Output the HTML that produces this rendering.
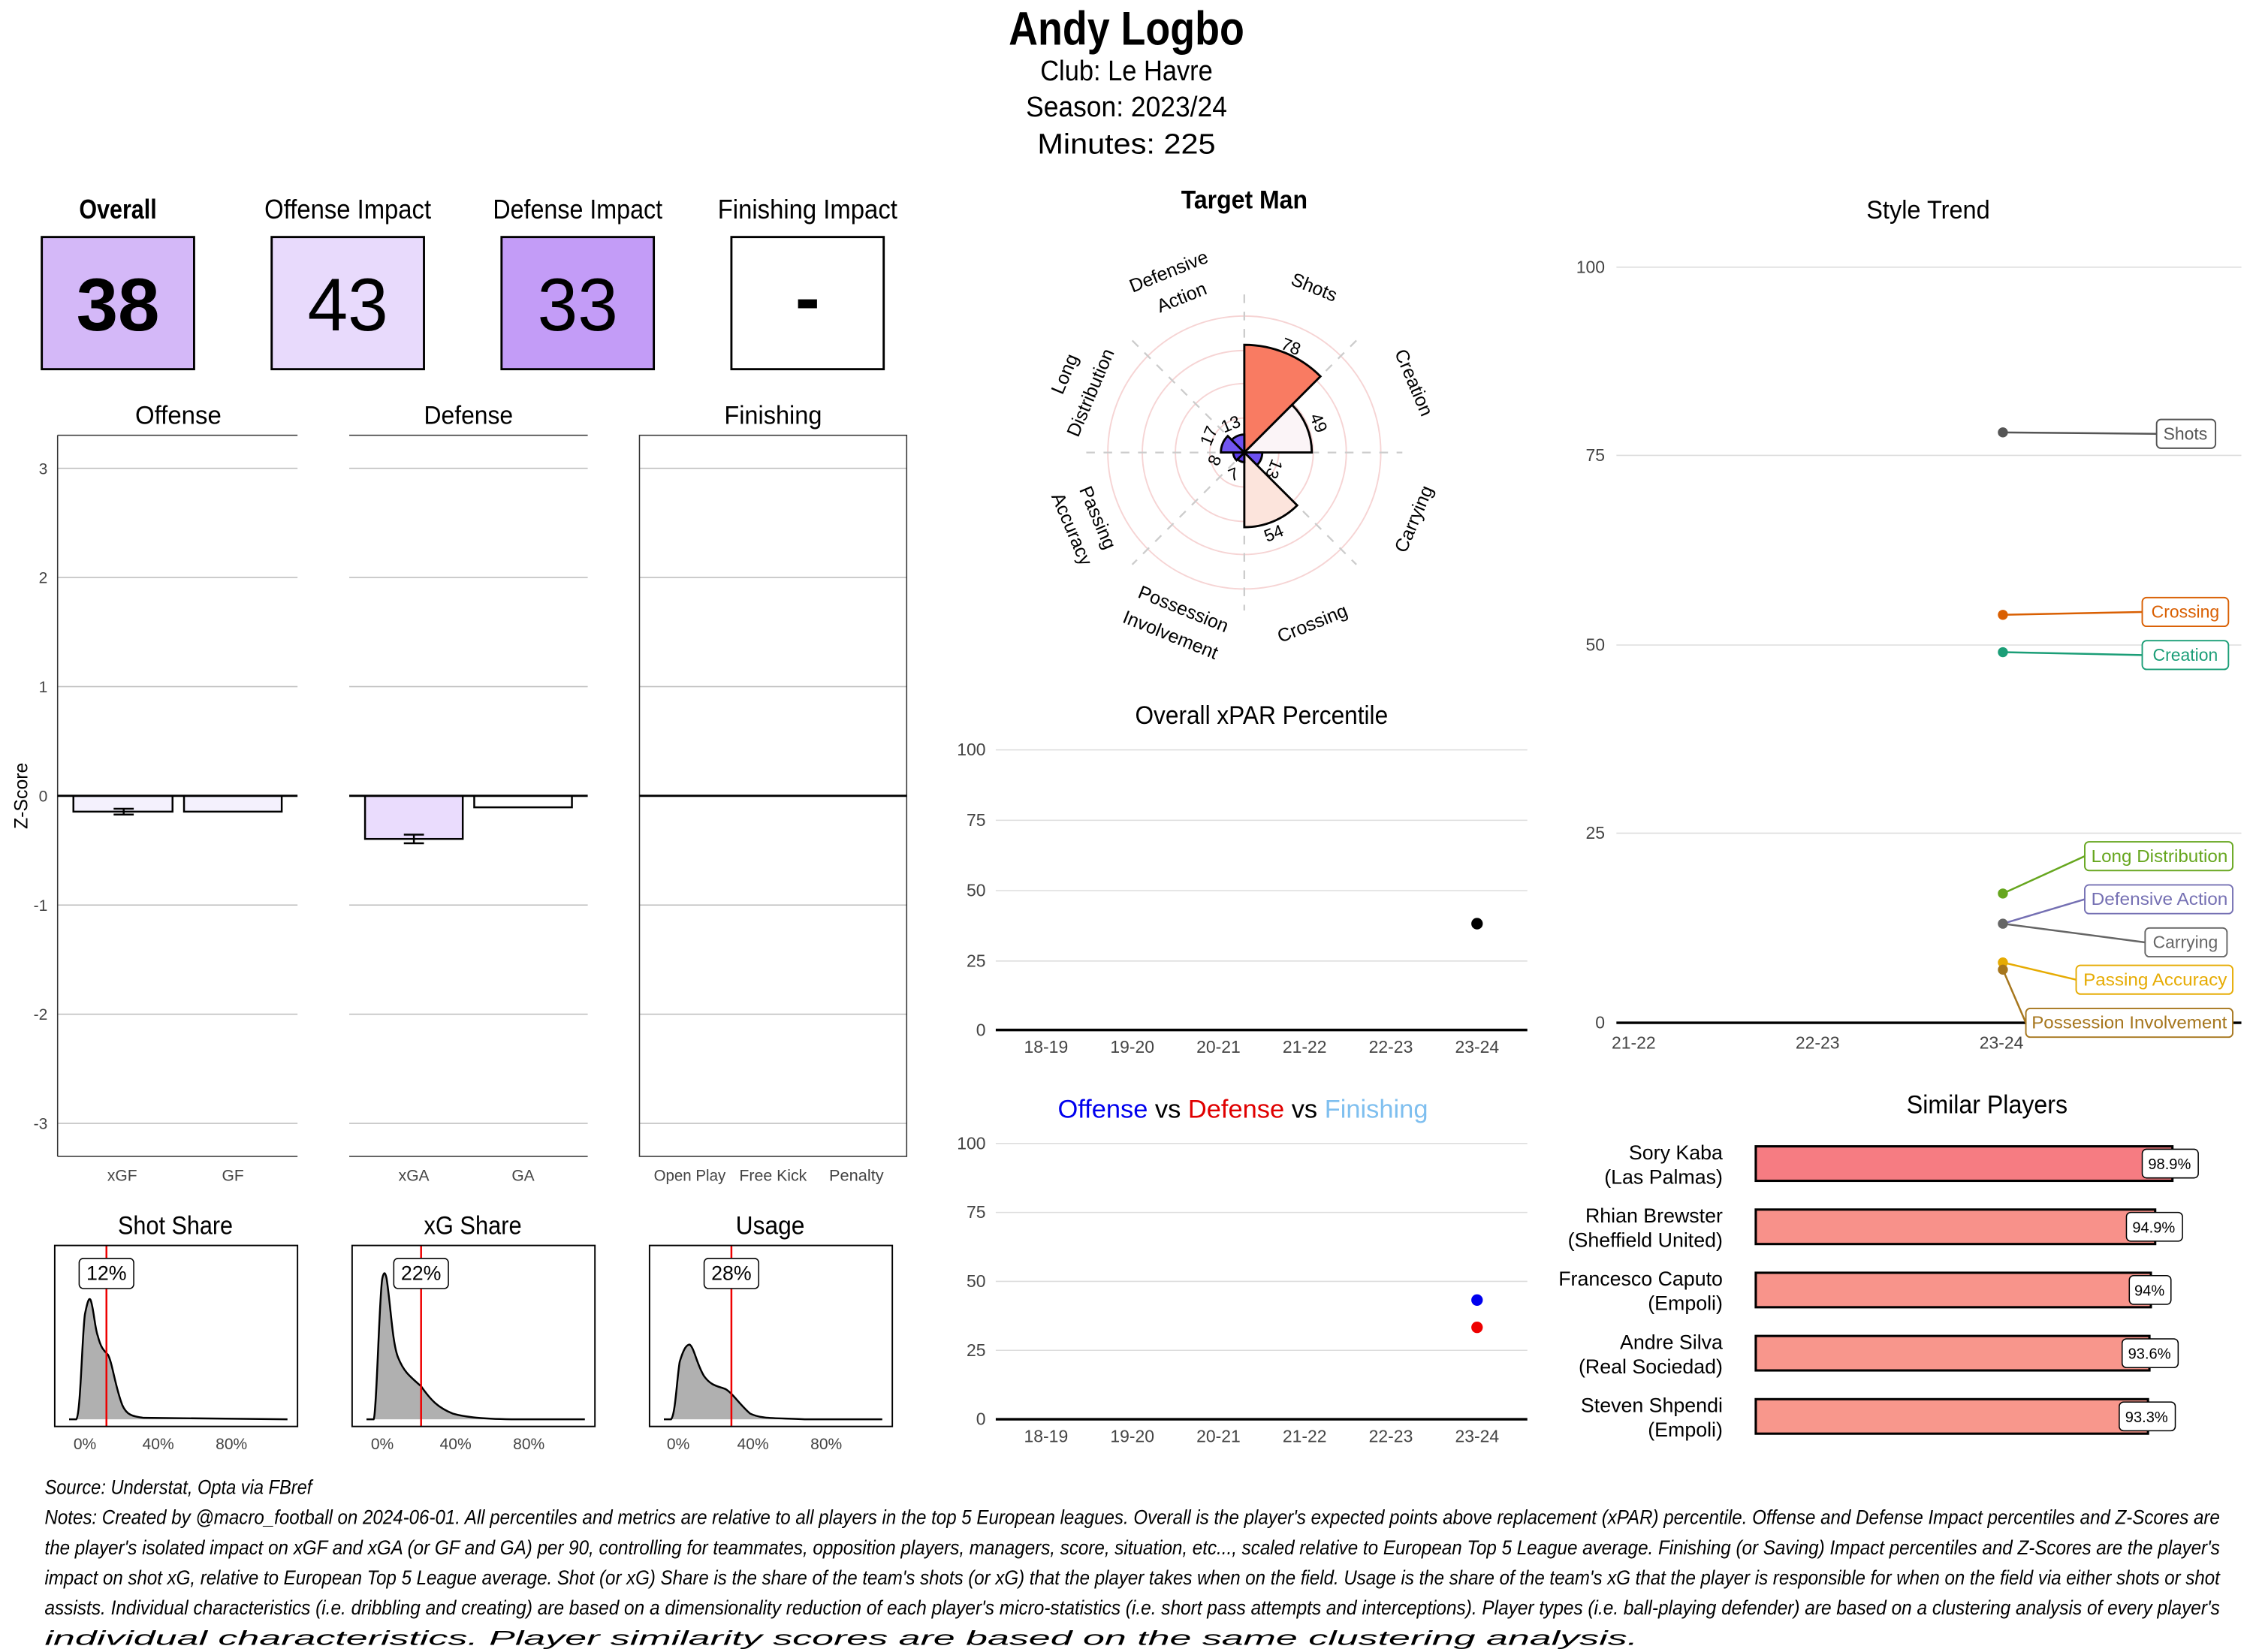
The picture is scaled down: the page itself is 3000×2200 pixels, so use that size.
<!DOCTYPE html>
<html><head><meta charset="utf-8"><style>html,body{margin:0;padding:0;background:#fff}svg{display:block}</style></head>
<body>
<svg xmlns="http://www.w3.org/2000/svg" width="3000" height="2200" viewBox="0 0 1568 1150" font-family="Liberation Sans, sans-serif">
<rect width="1568" height="1150" fill="#fff"/>
<!-- Title -->
<text x="784" y="31" text-anchor="middle" font-size="33" font-weight="bold" textLength="164" lengthAdjust="spacingAndGlyphs">Andy Logbo</text>
<g font-size="20" text-anchor="middle">
<text x="784" y="56" textLength="120" lengthAdjust="spacingAndGlyphs">Club:  Le Havre</text>
<text x="784" y="81" textLength="140" lengthAdjust="spacingAndGlyphs">Season:  2023/24</text>
<text x="784" y="107" textLength="124" lengthAdjust="spacingAndGlyphs">Minutes:  225</text>
</g>
<!-- Impact boxes -->
<g font-size="19" text-anchor="middle">
<text x="82" y="152" font-weight="bold" textLength="54" lengthAdjust="spacingAndGlyphs">Overall</text>
<text x="242" y="152" textLength="116" lengthAdjust="spacingAndGlyphs">Offense Impact</text>
<text x="402" y="152" textLength="118" lengthAdjust="spacingAndGlyphs">Defense Impact</text>
<text x="562" y="152" textLength="125" lengthAdjust="spacingAndGlyphs">Finishing Impact</text>
</g>
<rect x="29" y="165" width="106" height="92" fill="#d4b8f8" stroke="#000" stroke-width="1.5"/>
<rect x="189" y="165" width="106" height="92" fill="#e8dafc" stroke="#000" stroke-width="1.5"/>
<rect x="349" y="165" width="106" height="92" fill="#c39cf7" stroke="#000" stroke-width="1.5"/>
<rect x="509" y="165" width="106" height="92" fill="#fff" stroke="#000" stroke-width="1.5"/>
<g font-size="52" text-anchor="middle">
<text x="82" y="230" font-weight="bold" textLength="58" lengthAdjust="spacingAndGlyphs">38</text>
<text x="242" y="230" textLength="56" lengthAdjust="spacingAndGlyphs">43</text>
<text x="402" y="230" textLength="56" lengthAdjust="spacingAndGlyphs">33</text>
<text x="562" y="225" font-weight="bold">-</text>
</g>
<!-- Z-score panels -->
<g font-size="18" text-anchor="middle">
<text x="124" y="295" textLength="60" lengthAdjust="spacingAndGlyphs">Offense</text>
<text x="326" y="295" textLength="62" lengthAdjust="spacingAndGlyphs">Defense</text>
<text x="538" y="295" textLength="68" lengthAdjust="spacingAndGlyphs">Finishing</text>
</g>
<g stroke="#bbb" stroke-width="0.8">
<line x1="40" x2="207" y1="326" y2="326"/><line x1="40" x2="207" y1="402" y2="402"/><line x1="40" x2="207" y1="478" y2="478"/><line x1="40" x2="207" y1="630" y2="630"/><line x1="40" x2="207" y1="706" y2="706"/><line x1="40" x2="207" y1="782" y2="782"/>
<line x1="243" x2="409" y1="326" y2="326"/><line x1="243" x2="409" y1="402" y2="402"/><line x1="243" x2="409" y1="478" y2="478"/><line x1="243" x2="409" y1="630" y2="630"/><line x1="243" x2="409" y1="706" y2="706"/><line x1="243" x2="409" y1="782" y2="782"/>
<line x1="445" x2="631" y1="326" y2="326"/><line x1="445" x2="631" y1="402" y2="402"/><line x1="445" x2="631" y1="478" y2="478"/><line x1="445" x2="631" y1="630" y2="630"/><line x1="445" x2="631" y1="706" y2="706"/><line x1="445" x2="631" y1="782" y2="782"/>
</g>
<g stroke="#333" stroke-width="0.8" fill="none">
<line x1="40" x2="207" y1="303" y2="303"/><line x1="40" x2="40" y1="303" y2="805"/><line x1="40" x2="207" y1="805" y2="805"/>
<line x1="243" x2="409" y1="303" y2="303"/><line x1="243" x2="409" y1="805" y2="805"/>
<rect x="445" y="303" width="186" height="502"/>
</g>
<g font-size="11" fill="#444" text-anchor="end">
<text x="33" y="330">3</text><text x="33" y="406">2</text><text x="33" y="482">1</text><text x="33" y="558">0</text><text x="33" y="634">-1</text><text x="33" y="710">-2</text><text x="33" y="786">-3</text>
</g>
<text transform="translate(19,554) rotate(-90)" font-size="13" text-anchor="middle">Z-Score</text>
<rect x="51" y="554" width="69" height="11" fill="#f4f1fd" stroke="#000" stroke-width="1.3"/>
<rect x="128" y="554" width="68" height="11" fill="#f4f1fd" stroke="#000" stroke-width="1.3"/>
<rect x="254" y="554" width="68" height="30" fill="#eadcfd" stroke="#000" stroke-width="1.3"/>
<rect x="330" y="554" width="68" height="8" fill="#fff" stroke="#000" stroke-width="1.3"/>
<g stroke="#000" stroke-width="1.3">
<line x1="79" x2="93" y1="563" y2="563"/><line x1="79" x2="93" y1="567" y2="567"/><line x1="86" x2="86" y1="563" y2="567"/>
<line x1="281" x2="295" y1="581" y2="581"/><line x1="281" x2="295" y1="587" y2="587"/><line x1="288" x2="288" y1="581" y2="587"/>
<line x1="40" x2="207" y1="554" y2="554" stroke-width="1.5"/><line x1="243" x2="409" y1="554" y2="554" stroke-width="1.5"/><line x1="445" x2="631" y1="554" y2="554" stroke-width="1.5"/>
</g>
<g font-size="11" fill="#444" text-anchor="middle">
<text x="85" y="822">xGF</text><text x="162" y="822">GF</text><text x="288" y="822">xGA</text><text x="364" y="822">GA</text>
<text x="480" y="822" textLength="50" lengthAdjust="spacingAndGlyphs">Open Play</text><text x="538" y="822" textLength="47" lengthAdjust="spacingAndGlyphs">Free Kick</text><text x="596" y="822" textLength="38" lengthAdjust="spacingAndGlyphs">Penalty</text>
</g>
<!-- Density panels -->
<g font-size="18" text-anchor="middle">
<text x="122" y="859" textLength="80" lengthAdjust="spacingAndGlyphs">Shot Share</text>
<text x="329" y="859" textLength="68" lengthAdjust="spacingAndGlyphs">xG Share</text>
<text x="536" y="859" textLength="48" lengthAdjust="spacingAndGlyphs">Usage</text>
</g>
<g fill="#b0b0b0" stroke="#000" stroke-width="1.3">
<path d="M48 988 L53 988 C56 985 57 930 59 915 C61 905 62 903 63 905 C65 910 66 925 68 930 C70 938 72 940 75 943 C78 948 80 965 85 978 C88 985 92 986 100 987 L200 988"/>
<path d="M255 988 L260 988 C262 985 264 900 266 890 C267 885 268 885 269 890 C272 910 273 935 277 945 C281 955 285 958 293 965 C300 975 305 980 315 984 C325 987 340 988 360 988 L407 988"/>
<path d="M462 988 L467 988 C470 985 471 960 473 948 C476 938 478 936 480 936 C483 938 485 950 490 958 C495 965 500 965 505 967 C510 970 515 978 522 984 C530 988 540 987 560 988 L614 988"/>
</g>
<g stroke="#e00" stroke-width="1.3">
<line x1="74" x2="74" y1="867" y2="993"/><line x1="293" x2="293" y1="867" y2="993"/><line x1="509" x2="509" y1="867" y2="993"/>
</g>
<g fill="none" stroke="#000" stroke-width="1">
<rect x="38" y="867" width="169" height="126"/><rect x="245" y="867" width="169" height="126"/><rect x="452" y="867" width="169" height="126"/>
</g>
<g fill="#fff" stroke="#000" stroke-width="0.8">
<rect x="55" y="876" width="38" height="21" rx="3"/><rect x="274" y="876" width="38" height="21" rx="3"/><rect x="490" y="876" width="38" height="21" rx="3"/>
</g>
<g font-size="14" text-anchor="middle">
<text x="74" y="891">12%</text><text x="293" y="891">22%</text><text x="509" y="891">28%</text>
</g>
<g font-size="11" fill="#444" text-anchor="middle">
<text x="59" y="1009">0%</text><text x="110" y="1009">40%</text><text x="161" y="1009">80%</text>
<text x="266" y="1009">0%</text><text x="317" y="1009">40%</text><text x="368" y="1009">80%</text>
<text x="472" y="1009">0%</text><text x="524" y="1009">40%</text><text x="575" y="1009">80%</text>
</g>
<!-- Radar -->
<text x="866" y="145" font-size="18" font-weight="bold" text-anchor="middle" textLength="88" lengthAdjust="spacingAndGlyphs">Target Man</text>
<g fill="none" stroke="#f6d4d4" stroke-width="1">
<circle cx="866" cy="315" r="24"/><circle cx="866" cy="315" r="48"/><circle cx="866" cy="315" r="71"/><circle cx="866" cy="315" r="95"/>
</g>
<g stroke="#ccc" stroke-width="1.2" stroke-dasharray="6,6">
<line x1="866" y1="205" x2="866" y2="425"/><line x1="756" y1="315" x2="976" y2="315"/>
<line x1="788" y1="237" x2="944" y2="393"/><line x1="944" y1="237" x2="788" y2="393"/>
</g>
<g stroke="#000" stroke-width="1.5">
<path d="M866 315 L866 240 A75 75 0 0 1 919 262 Z" fill="#f97b62"/>
<path d="M866 315 L899.2 281.8 A47 47 0 0 1 913 315 Z" fill="#fbf4f7"/>
<path d="M866 315 L878.5 315 A12.5 12.5 0 0 1 874.8 323.8 Z" fill="#6d50f0"/>
<path d="M866 315 L902.8 351.8 A52 52 0 0 1 866 367 Z" fill="#fce4dc"/>
<path d="M866 315 L866 321.7 A6.7 6.7 0 0 1 861.3 319.7 Z" fill="#5a3ae8"/>
<path d="M866 315 L860.6 320.4 A7.7 7.7 0 0 1 858.3 315 Z" fill="#5a3ae8"/>
<path d="M866 315 L849.7 315 A16.3 16.3 0 0 1 854.5 303.5 Z" fill="#7256f0"/>
<path d="M866 315 L857.2 306.2 A12.5 12.5 0 0 1 866 302.5 Z" fill="#6d50f0"/>
</g>
<g font-size="12" text-anchor="middle">
<text transform="translate(897,245) rotate(22)">78</text>
<text transform="translate(914,296) rotate(67)">49</text>
<text transform="translate(883,325) rotate(112)">13</text>
<text transform="translate(888,375) rotate(-22)">54</text>
<text transform="translate(860,334) rotate(-22)">7</text>
<text transform="translate(849,322) rotate(-67)">8</text>
<text transform="translate(845,305) rotate(-67)">17</text>
<text transform="translate(858,299) rotate(-22)">13</text>
</g>
<g font-size="13" text-anchor="middle">
<text transform="translate(913,204) rotate(22)">Shots</text>
<text transform="translate(815,193) rotate(-22)">Defensive</text>
<text transform="translate(824,211) rotate(-22)">Action</text>
<text transform="translate(980,268) rotate(67)">Creation</text>
<text transform="translate(745,262) rotate(-67)">Long</text>
<text transform="translate(763,275) rotate(-67)">Distribution</text>
<text transform="translate(988,363) rotate(-67)">Carrying</text>
<text transform="translate(760,362) rotate(67)">Passing</text>
<text transform="translate(742,370) rotate(67)">Accuracy</text>
<text transform="translate(822,428) rotate(22)">Possession</text>
<text transform="translate(813,446) rotate(22)">Involvement</text>
<text transform="translate(915,438) rotate(-22)">Crossing</text>
</g>
<!-- Overall xPAR -->
<text x="878" y="504" font-size="18" text-anchor="middle" textLength="176" lengthAdjust="spacingAndGlyphs">Overall xPAR Percentile</text>
<g stroke="#ddd" stroke-width="0.8">
<line x1="693" x2="1063" y1="522" y2="522"/><line x1="693" x2="1063" y1="571" y2="571"/><line x1="693" x2="1063" y1="620" y2="620"/><line x1="693" x2="1063" y1="669" y2="669"/>
<line x1="693" x2="1063" y1="796" y2="796"/><line x1="693" x2="1063" y1="844" y2="844"/><line x1="693" x2="1063" y1="892" y2="892"/><line x1="693" x2="1063" y1="940" y2="940"/>
</g>
<line x1="693" x2="1063" y1="717" y2="717" stroke="#000" stroke-width="1.8"/>
<line x1="693" x2="1063" y1="988" y2="988" stroke="#000" stroke-width="1.8"/>
<g font-size="12" fill="#444" text-anchor="end">
<text x="686" y="526">100</text><text x="686" y="575">75</text><text x="686" y="624">50</text><text x="686" y="673">25</text><text x="686" y="721">0</text>
<text x="686" y="800">100</text><text x="686" y="848">75</text><text x="686" y="896">50</text><text x="686" y="944">25</text><text x="686" y="992">0</text>
</g>
<g font-size="12" fill="#444" text-anchor="middle">
<text x="728" y="733">18-19</text><text x="788" y="733">19-20</text><text x="848" y="733">20-21</text><text x="908" y="733">21-22</text><text x="968" y="733">22-23</text><text x="1028" y="733">23-24</text>
<text x="728" y="1004">18-19</text><text x="788" y="1004">19-20</text><text x="848" y="1004">20-21</text><text x="908" y="1004">21-22</text><text x="968" y="1004">22-23</text><text x="1028" y="1004">23-24</text>
</g>
<circle cx="1028" cy="643" r="4" fill="#000"/>
<text x="865" y="778" font-size="18" text-anchor="middle"><tspan fill="#0000ee">Offense</tspan><tspan fill="#000">  vs  </tspan><tspan fill="#e00000">Defense</tspan><tspan fill="#000">  vs  </tspan><tspan fill="#7fbfef">Finishing</tspan></text>
<circle cx="1028" cy="905" r="4" fill="#0000ee"/>
<circle cx="1028" cy="924" r="4" fill="#ee0000"/>
<!-- Style Trend -->
<text x="1342" y="152" font-size="18" text-anchor="middle" textLength="86" lengthAdjust="spacingAndGlyphs">Style Trend</text>
<g stroke="#ddd" stroke-width="0.8">
<line x1="1125" x2="1560" y1="186" y2="186"/><line x1="1125" x2="1560" y1="317" y2="317"/><line x1="1125" x2="1560" y1="449" y2="449"/><line x1="1125" x2="1560" y1="580" y2="580"/>
</g>
<line x1="1125" x2="1560" y1="712" y2="712" stroke="#000" stroke-width="1.8"/>
<g font-size="12" fill="#444" text-anchor="end">
<text x="1117" y="190">100</text><text x="1117" y="321">75</text><text x="1117" y="453">50</text><text x="1117" y="584">25</text><text x="1117" y="716">0</text>
</g>
<g font-size="12" fill="#444" text-anchor="middle">
<text x="1137" y="730">21-22</text><text x="1265" y="730">22-23</text><text x="1393" y="730">23-24</text>
</g>
<g stroke-width="1.3" fill="none">
<line x1="1394" y1="301" x2="1501" y2="302" stroke="#555"/>
<line x1="1394" y1="428" x2="1491" y2="426" stroke="#d95f02"/>
<line x1="1394" y1="454" x2="1491" y2="456" stroke="#1b9e77"/>
<line x1="1394" y1="622" x2="1451" y2="596" stroke="#66a61e"/>
<line x1="1394" y1="643" x2="1451" y2="626" stroke="#7570b3"/>
<line x1="1394" y1="643" x2="1493" y2="656" stroke="#666"/>
<line x1="1394" y1="670" x2="1445" y2="682" stroke="#e6ab02"/>
<line x1="1394" y1="675" x2="1410" y2="712" stroke="#a6761d"/>
</g>
<circle cx="1394" cy="301" r="3.5" fill="#555"/>
<circle cx="1394" cy="428" r="3.5" fill="#d95f02"/>
<circle cx="1394" cy="454" r="3.5" fill="#1b9e77"/>
<circle cx="1394" cy="622" r="3.5" fill="#66a61e"/>
<circle cx="1394" cy="643" r="3.5" fill="#666"/>
<circle cx="1394" cy="670" r="3.5" fill="#e6ab02"/>
<circle cx="1394" cy="675" r="3.5" fill="#a6761d"/>
<g fill="#fff" stroke-width="1">
<rect x="1501" y="292" width="41" height="20" rx="3" stroke="#555"/>
<rect x="1491" y="416" width="60" height="20" rx="3" stroke="#d95f02"/>
<rect x="1491" y="446" width="60" height="20" rx="3" stroke="#1b9e77"/>
<rect x="1451" y="586" width="103" height="20" rx="3" stroke="#66a61e"/>
<rect x="1451" y="616" width="103" height="20" rx="3" stroke="#7570b3"/>
<rect x="1493" y="646" width="57" height="20" rx="3" stroke="#666"/>
<rect x="1445" y="672" width="109" height="20" rx="3" stroke="#e6ab02"/>
<rect x="1410" y="702" width="144" height="20" rx="3" stroke="#a6761d"/>
</g>
<g font-size="12" text-anchor="middle">
<text x="1521" y="306" fill="#555">Shots</text>
<text x="1521" y="430" fill="#d95f02">Crossing</text>
<text x="1521" y="460" fill="#1b9e77">Creation</text>
<text x="1503" y="600" fill="#66a61e" textLength="95" lengthAdjust="spacingAndGlyphs">Long Distribution</text>
<text x="1503" y="630" fill="#7570b3" textLength="95" lengthAdjust="spacingAndGlyphs">Defensive Action</text>
<text x="1521" y="660" fill="#666">Carrying</text>
<text x="1500" y="686" fill="#e6ab02" textLength="100" lengthAdjust="spacingAndGlyphs">Passing Accuracy</text>
<text x="1482" y="716" fill="#a6761d" textLength="136" lengthAdjust="spacingAndGlyphs">Possession Involvement</text>
</g>
<!-- Similar Players -->
<text x="1383" y="775" font-size="18" text-anchor="middle" textLength="112" lengthAdjust="spacingAndGlyphs">Similar Players</text>
<g stroke="#000" stroke-width="1.6">
<rect x="1222" y="798" width="290" height="24" fill="#f67c82"/>
<rect x="1222" y="842" width="278" height="24" fill="#f8918a"/>
<rect x="1222" y="886" width="275" height="24" fill="#f8948b"/>
<rect x="1222" y="930" width="274" height="24" fill="#f8968c"/>
<rect x="1222" y="974" width="273" height="24" fill="#f8978c"/>
</g>
<g fill="#fff" stroke="#000" stroke-width="0.8">
<rect x="1491" y="800" width="39" height="20" rx="3"/>
<rect x="1480" y="844" width="39" height="20" rx="3"/>
<rect x="1482" y="888" width="29" height="20" rx="3"/>
<rect x="1477" y="932" width="39" height="20" rx="3"/>
<rect x="1475" y="976" width="39" height="20" rx="3"/>
</g>
<g font-size="10.5" text-anchor="middle">
<text x="1510" y="814">98.9%</text><text x="1499" y="858">94.9%</text><text x="1496" y="902">94%</text><text x="1496" y="946">93.6%</text><text x="1494" y="990">93.3%</text>
</g>
<g font-size="14" text-anchor="end">
<text x="1199" y="807">Sory Kaba</text><text x="1199" y="824">(Las Palmas)</text>
<text x="1199" y="851">Rhian Brewster</text><text x="1199" y="868">(Sheffield United)</text>
<text x="1199" y="895">Francesco Caputo</text><text x="1199" y="912">(Empoli)</text>
<text x="1199" y="939">Andre Silva</text><text x="1199" y="956">(Real Sociedad)</text>
<text x="1199" y="983">Steven Shpendi</text><text x="1199" y="1000">(Empoli)</text>
</g>
<!-- Footer -->
<g font-size="14" font-style="italic">
<text x="31" y="1040" textLength="186" lengthAdjust="spacingAndGlyphs">Source: Understat, Opta via FBref</text>
<text x="31" y="1061" textLength="1514" lengthAdjust="spacingAndGlyphs">Notes: Created by @macro_football on 2024-06-01. All percentiles and metrics are relative to all players in the top 5 European leagues. Overall is the player's expected points above replacement (xPAR) percentile. Offense and Defense Impact percentiles and Z-Scores are</text>
<text x="31" y="1082" textLength="1514" lengthAdjust="spacingAndGlyphs">the player's isolated impact on xGF and xGA (or GF and GA) per 90, controlling for teammates, opposition players, managers, score, situation, etc..., scaled relative to European Top 5 League average. Finishing (or Saving) Impact percentiles and Z-Scores are the player's</text>
<text x="31" y="1103" textLength="1514" lengthAdjust="spacingAndGlyphs">impact on shot xG, relative to European Top 5 League average. Shot (or xG) Share is the share of the team's shots (or xG) that the player takes when on the field. Usage is the share of the team's xG that the player is responsible for when on the field via either shots or shot</text>
<text x="31" y="1124" textLength="1514" lengthAdjust="spacingAndGlyphs">assists. Individual characteristics (i.e. dribbling and creating) are based on a dimensionality reduction of each player's micro-statistics (i.e. short pass attempts and interceptions). Player types (i.e. ball-playing defender) are based on a clustering analysis of every player's</text>
<text x="31" y="1145" textLength="1109" lengthAdjust="spacingAndGlyphs">individual characteristics. Player similarity scores are based on the same clustering analysis.</text>
</g>
</svg>
</body></html>
